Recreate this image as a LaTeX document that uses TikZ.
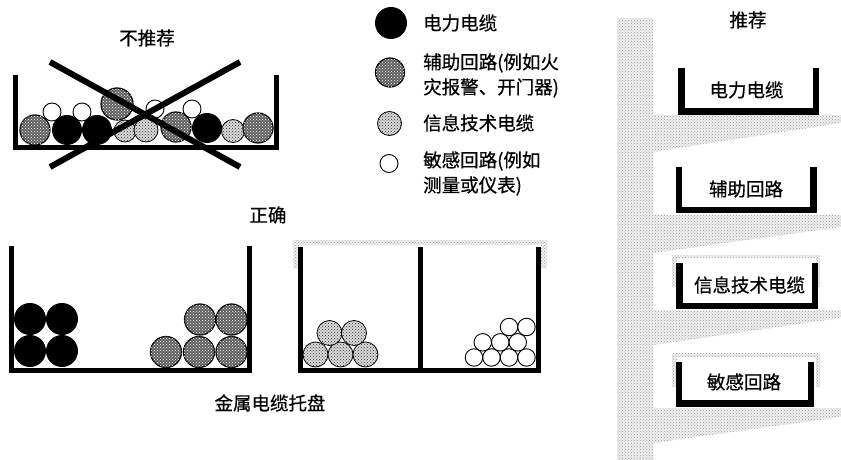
\documentclass[tikz,border=0pt]{standalone}
\usepackage{fontspec}
\newfontfamily\cjk[FakeBold=0.6]{Noto Sans CJK SC}
\usetikzlibrary{patterns}

\begin{document}
\begin{tikzpicture}[x=1pt, y=-1pt,
    every node/.style={font=\cjk\fontsize{18.5}{25}\selectfont, inner sep=0pt},
    tray/.style={line width=5pt, line join=miter},
    shelftray/.style={tray, line width=6.5pt},
    wall/.style={fill=gray!12, postaction={pattern=crosshatch dots, pattern color=gray!80}},
    power/.style={fill=black},
    aux/.style={draw, line width=1.2pt, fill=gray!75!black, postaction={pattern=crosshatch dots, pattern color=white}},
    info/.style={draw, line width=0.8pt, fill=gray!30, postaction={pattern=crosshatch dots, pattern color=gray!40!black}},
    sens/.style={draw, line width=0.9pt, fill=white},
    cross/.style={line width=6pt}]

  \useasboundingbox (0,0) rectangle (841,460);

  % titles
  \node (bad) at (147,38) {不推荐};
  \node (good) at (268,215) {正确};
  \node (metal) at (270,403) {金属电缆托盘};
  \node (rec) at (748,20) {推荐};

  % legend
  \fill[power] (391,23) circle (16);
  \draw[aux] (390,72.5) circle (14.5);
  \draw[info] (389.5,123.5) circle (12);
  \draw[sens] (389,163.5) circle (9);
  \node[anchor=west] (lpower) at (423,23) {电力电缆};
  \node[anchor=west, align=left] (laux) at (423,75.5) {辅助回路(例如火\\灾报警、开门器)};
  \node[anchor=west] (linfo) at (423,123) {信息技术电缆};
  \node[anchor=west, align=left] (lsens) at (423,173.5) {敏感回路(例如\\测量或仪表)};

  % mixed tray
  \foreach \x/\y in {52/112, 82/112, 155/109, 192/109}
    \draw[sens] (\x,\y) circle (9);
  \foreach \x/\y in {67/130, 97/130, 207/128}
    \fill[power] (\x,\y) circle (15);
  \draw[aux] (117,104) circle (16);
  \foreach \x/\y/\r in {125/131/11, 146/130/12, 233/131/11.5}
    \draw[info] (\x,\y) circle (\r);
  \foreach \x/\y in {35/130, 176/127, 258/128}
    \draw[aux] (\x,\y) circle (15);
  \draw[tray] (15.5,75) |- (276.5,147.5) -- (276.5,75);
  \draw[cross] (50,62) -- (240,167);
  \draw[cross] (240,62) -- (50,167);

  % separated trays
  \foreach \x/\y in {30/319, 62/319, 30/351, 62/351}
    \fill[power] (\x,\y) circle (16);
  \foreach \x/\y in {166/352, 199/352, 231.5/352, 200/319.5, 231.5/319.5}
    \draw[aux] (\x,\y) circle (15.5);
  \draw[tray] (11.5,246) |- (249.5,370) -- (249.5,246);

  \path[wall] (293,240) rectangle (547,245) (293,240) rectangle (299,268) (541,240) rectangle (547,268);
  \foreach \x/\y in {315.5/354.5, 340.5/354.5, 365.5/354.5, 329.5/333, 354/333}
    \draw[info] (\x,\y) circle (12.5);
  \foreach \x/\y in {474/357.5, 491.5/357.5, 509/357.5, 526.5/357.5,
                     482.75/342.3, 500.25/342.3, 517.75/342.3, 509/327, 526.5/327}
    \draw[sens] (\x,\y) circle (8.75);
  \draw[tray] (300,247) |- (538,370) -- (538,247);
  \draw[tray] (420,247) -- (420,370);

  % wall with shelves
  \path[wall] (617,18) -- (653,18) -- (653,115) -- (841,115) -- (841,123) -- (653,152)
    -- (653,215) -- (841,215) -- (841,227) -- (653,253)
    -- (653,310) -- (841,310) -- (841,318) -- (653,345)
    -- (653,408) -- (841,408) -- (841,417) -- (653,443)
    -- (653,460) -- (617,460) -- cycle;
  \path[wall] (672,255) rectangle (820,258) (672,255) rectangle (677,287) (816,255) rectangle (820,287);
  \path[wall] (672,353) rectangle (820,357) (672,353) rectangle (677,387) (816,353) rectangle (820,387);

  \draw[shelftray] (681.5,68) |- (816,111.5) -- (816,68);
  \draw[shelftray] (679,167) |- (813.5,210) -- (813.5,167);
  \draw[shelftray] (679.5,263) |- (815,306) -- (815,263);
  \draw[shelftray] (679,362) |- (811,403.5) -- (811,362);
  \node (spower) at (746.5,90) {电力电缆};
  \node (saux) at (746,189) {辅助回路};
  \node (sinfo) at (749.5,285) {信息技术电缆};
  \node (ssens) at (744,382) {敏感回路};

\end{tikzpicture}
\end{document}
